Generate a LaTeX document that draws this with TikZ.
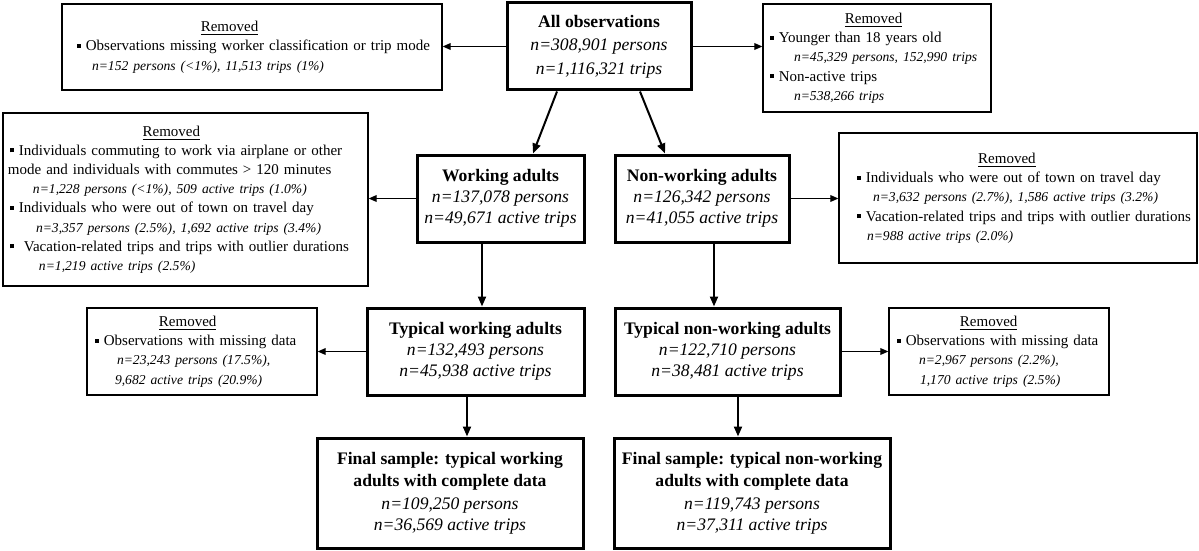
\documentclass[tikz,border=0pt]{standalone}
\usepackage{fontspec}
\setmainfont{Liberation Serif}
\usetikzlibrary{arrows.meta,positioning,calc}

\newcommand{\sqbul}{\raisebox{0.2em}{\rule{0.26em}{0.26em}}}
\newcommand{\nval}[1]{{\fontsize{6.8}{8}\selectfont\itshape #1}}
\newcommand{\rmhead}[1]{\multicolumn{1}{@{}c@{\hspace{#1}}}{\underline{Removed}}}

\begin{document}
\begin{tikzpicture}[
  x=0.5pt, y=-0.5pt,
  mainbox/.style={rectangle, draw, line width=1.5pt, align=center, inner sep=0pt,
    font=\fontsize{8.8}{10.4}\selectfont},
  rmbox/.style={rectangle, draw, line width=0.7pt, align=left, inner ysep=0pt,
    font=\fontsize{7.5}{9.6}\selectfont},
  flow/.style={-{Triangle[length=5pt,width=4pt]}, line width=1pt},
  side/.style={-{Triangle[length=4pt,width=3.4pt]}, line width=0.5pt}
]
  \useasboundingbox (0,0) rectangle (1199,551);

  % main flow
  \node[mainbox, minimum width=92pt, minimum height=43.5pt] (all) at (599,46.5)
    {\textbf{All observations}\\[1.3pt] \textit{n=308,901 persons}\\[1.3pt] \textit{n=1,116,321 trips}};
  \node[mainbox, minimum width=83.5pt, minimum height=43.5pt] (wrk) at (500.5,198.5)
    {\textbf{Working adults}\\ \textit{n=137,078 persons}\\ \textit{n=49,671 active trips}};
  \node[mainbox, minimum width=87pt, minimum height=43.5pt] (nwrk) at (702,198.5)
    {\textbf{Non-working adults}\\ \textit{n=126,342 persons}\\ \textit{n=41,055 active trips}};
  \node[mainbox, minimum width=108.5pt, minimum height=43.5pt] (twrk) at (475.5,351.5)
    {\textbf{Typical working adults}\\ \textit{n=132,493 persons}\\ \textit{n=45,938 active trips}};
  \node[mainbox, minimum width=112.5pt, minimum height=43.5pt] (tnwrk) at (727.5,351.5)
    {\textbf{Typical non-working adults}\\ \textit{n=122,710 persons}\\ \textit{n=38,481 active trips}};
  \node[mainbox, minimum width=133pt, minimum height=55pt] (fwrk) at (450,493)
    {\textbf{Final sample: typical working}\\[1pt] \textbf{adults with complete data}\\[1pt]
     \textit{n=109,250 persons}\\ \textit{n=36,569 active trips}};
  \node[mainbox, minimum width=138pt, minimum height=55pt] (fnwrk) at (752,493)
    {\textbf{Final sample: typical non-working}\\[1pt] \textbf{adults with complete data}\\[1pt]
     \textit{n=119,743 persons}\\ \textit{n=37,311 active trips}};

  % removed boxes
  \node[rmbox, inner xsep=7.5pt, text width=175pt, minimum height=43pt] (rmtop) at (252,47)
    {\begin{tabular}{@{}l@{}}
      \rmhead{24pt}\\
      \sqbul\ Observations missing worker classification or trip mode\\
      \hspace*{7.5pt}\nval{n=152 persons (<1\%), 11,513 trips (1\%)}
    \end{tabular}};
  \node[rmbox, inner xsep=3.5pt, text width=107pt, minimum height=54pt] (rmage) at (877,58)
    {\begin{tabular}{@{}l@{}}
      \rmhead{0pt}\\
      \sqbul\ Younger than 18 years old\\
      \hspace*{12pt}\nval{n=45,329 persons, 152,990 trips}\\
      \sqbul\ Non-active trips\\
      \hspace*{12pt}\nval{n=538,266 trips}
    \end{tabular}};
  \node[rmbox, inner xsep=2.5pt, text width=177.5pt, minimum height=86.5pt] (rmwrk) at (185.5,199.5)
    {\begin{tabular}{@{}l@{}}
      \rmhead{7pt}\\
      \hspace*{1pt}\sqbul\ Individuals commuting to work via airplane or other\\
      mode and individuals with commutes > 120 minutes\\
      \hspace*{12.5pt}\nval{n=1,228 persons (<1\%), 509 active trips (1.0\%)}\\
      \hspace*{1pt}\sqbul\ Individuals who were out of town on travel day\\
      \hspace*{14pt}\nval{n=3,357 persons (2.5\%), 1,692 active trips (3.4\%)}\\
      \hspace*{1pt}\sqbul\ \ Vacation-related trips and trips with outlier durations\\
      \hspace*{15.5pt}\nval{n=1,219 active trips (2.5\%)}
    \end{tabular}};
  \node[rmbox, inner xsep=9pt, text width=161pt, minimum height=65pt] (rmnwrk) at (1018,198)
    {\begin{tabular}{@{}l@{}}
      \rmhead{17pt}\\
      \sqbul\ Individuals who were out of town on travel day\\
      \hspace*{8pt}\nval{n=3,632 persons (2.7\%), 1,586 active trips (3.2\%)}\\
      \sqbul\ Vacation-related trips and trips with outlier durations\\
      \hspace*{5pt}\nval{n=988 active trips (2.0\%)}
    \end{tabular}};
  \node[rmbox, inner xsep=4pt, text width=107pt, minimum height=43.5pt] (rmtwrk) at (202,351.5)
    {\begin{tabular}{@{}l@{}}
      \rmhead{8pt}\\
      \sqbul\ Observations with missing data\\
      \hspace*{11pt}\nval{n=23,243 persons (17.5\%),}\\
      \hspace*{10pt}\nval{9,682 active trips (20.9\%)}
    \end{tabular}};
  \node[rmbox, inner xsep=4pt, text width=102pt, minimum height=43.5pt] (rmtnwrk) at (999,351.5)
    {\begin{tabular}{@{}l@{}}
      \rmhead{9pt}\\
      \sqbul\ Observations with missing data\\
      \hspace*{11pt}\nval{n=2,967 persons (2.2\%),}\\
      \hspace*{11.5pt}\nval{1,170 active trips (2.5\%)}
    \end{tabular}};

  % connectors
  \coordinate (wdown) at ($(wrk.south)+(-18.5,0)$);
  \coordinate (ndown) at ($(nwrk.south)+(12,0)$);
  \coordinate (twdown) at ($(twrk.south)+(-8.5,0)$);
  \coordinate (tndown) at ($(tnwrk.south)+(10.5,0)$);

  \draw[flow] ([xshift=-21pt]all.south) -- ([xshift=16.25pt]wrk.north);
  \draw[flow] ([xshift=20.5pt]all.south) -- ([xshift=-18.5pt]nwrk.north);
  \draw[flow] (wdown) -- (wdown |- twrk.north);
  \draw[flow] (ndown) -- (ndown |- tnwrk.north);
  \draw[flow] (twdown) -- (twdown |- fwrk.north);
  \draw[flow] (tndown) -- (tndown |- fnwrk.north);

  \draw[side] (all.west) -- (all.west -| rmtop.east);
  \draw[side] (all.east) -- (all.east -| rmage.west);
  \draw[side] (wrk.west) -- (wrk.west -| rmwrk.east);
  \draw[side] (nwrk.east) -- (nwrk.east -| rmnwrk.west);
  \draw[side] (twrk.west) -- (twrk.west -| rmtwrk.east);
  \draw[side] (tnwrk.east) -- (tnwrk.east -| rmtnwrk.west);
\end{tikzpicture}
\end{document}
